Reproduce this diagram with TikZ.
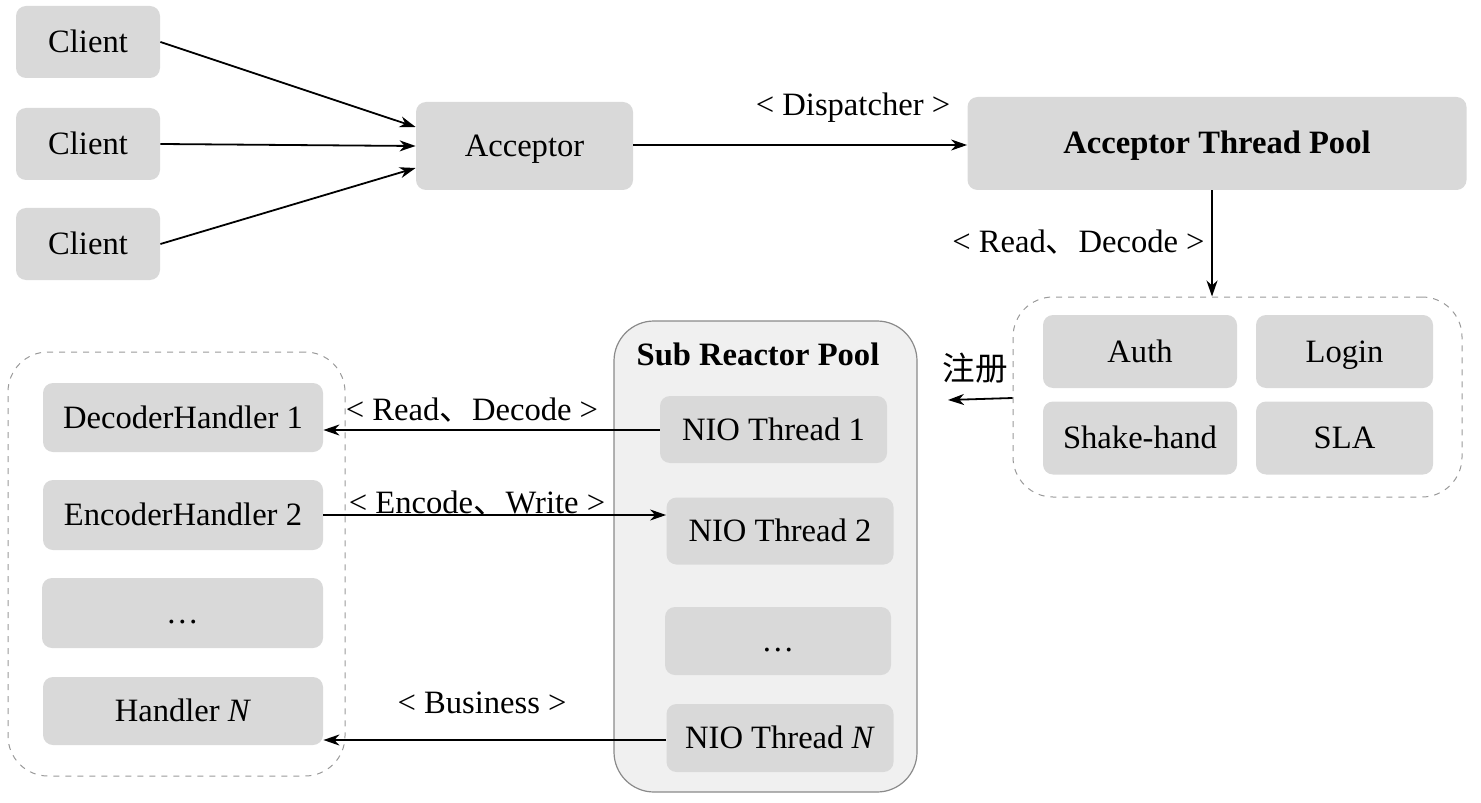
\documentclass[tikz,border=0pt]{standalone}
\usepackage{fontspec}
\setmainfont{Liberation Serif}
\newfontfamily\cjk{Noto Sans CJK SC}
\usetikzlibrary{arrows.meta}
\definecolor{boxfill}{HTML}{D9D9D9}
\definecolor{poolfill}{HTML}{F0F0F0}
\definecolor{poolline}{HTML}{8A8A8A}
\definecolor{dashline}{HTML}{9A9A9A}
\begin{document}
\begin{tikzpicture}[x=0.5pt,y=-0.5pt,
  every node/.style={font=\fontsize{16.3}{19}\selectfont, inner sep=0pt},
  box/.style={fill=boxfill, rounded corners=5pt, text height=12pt, text depth=1.5pt},
  dashbox/.style={draw=dashline, dashed, line width=0.5pt, rounded corners=20pt},
  pool/.style={draw=poolline, fill=poolfill, line width=0.6pt, rounded corners=20pt},
  conn/.style={line width=0.9pt, -{Stealth[length=8pt,width=5.5pt,inset=2.5pt]}},
  lbl/.style={fill=none}
]
\useasboundingbox (0,0) rectangle (1481,802);

% clients and acceptor
\node[box, minimum width=72pt, minimum height=36pt] (c1) at (88,42) {Client};
\node[box, minimum width=72pt, minimum height=36pt] (c2) at (88,144) {Client};
\node[box, minimum width=72pt, minimum height=36pt] (c3) at (88,244) {Client};
\node[box, minimum width=108.5pt, minimum height=44pt] (acc) at (524.5,146) {Acceptor};
\node[box, minimum width=249.5pt, minimum height=46.5pt] (atp) at (1217,143.5) {\bfseries Acceptor Thread Pool};

\draw[conn] (c1.east) -- (acc.west |- 0,127);
\draw[conn] (c2.east) -- (acc.west |- 0,146);
\draw[conn] (c3.east) -- (acc.west |- 0,168);
\draw[conn] (acc.east |- 0,145) -- (atp.west |- 0,145);
\node[lbl] (ldisp) at (853,108) {< Dispatcher >};

% right dashed group
\node[dashbox, minimum width=224.5pt, minimum height=100pt] (rgrp) at (1237.5,397) {};
\node[box, minimum width=97pt, minimum height=36.5pt] (auth) at (1140,351.5) {Auth};
\node[box, minimum width=88.5pt, minimum height=36.5pt] (login) at (1344.5,351.5) {Login};
\node[box, minimum width=97pt, minimum height=36.5pt] (shake) at (1140,438) {Shake-hand};
\node[box, minimum width=88.5pt, minimum height=36.5pt] (sla) at (1344.5,438) {SLA};

\draw[line width=0.7pt, -{Stealth[length=8pt,width=5.5pt,inset=2.5pt]}] (atp.south -| 1212,0) -- (rgrp.north -| 1212,0);
\node[lbl, anchor=east] (lrd1) at (1205,242) {< Read{\cjk 、}Decode >};

\coordinate (regend) at (948,400);
\draw[conn] (rgrp.west |- 0,398) -- (regend);
\node[lbl] (lreg) at (975,368) {\cjk 注册};

% sub reactor pool
\node[pool, minimum width=151.5pt, minimum height=235.5pt] (sub) at (765.5,556.5) {};
\node[lbl] (subt) at (758,354) {\bfseries Sub Reactor Pool};
\node[box, minimum width=113.5pt, minimum height=33.5pt] (nio1) at (773.5,429.5) {NIO Thread 1};
\node[box, minimum width=113.5pt, minimum height=33.5pt] (nio2) at (780,531) {NIO Thread 2};
\node[box, minimum width=113pt, minimum height=34pt] (niod) at (778,641) {…};
\node[box, minimum width=113.5pt, minimum height=34pt] (nion) at (780,738) {NIO Thread \textit{N}};

% left dashed group
\node[dashbox, minimum width=168.5pt, minimum height=212pt] (lgrp) at (176.5,564) {};
\node[box, minimum width=140pt, minimum height=34.5pt] (h1) at (183,417.5) {DecoderHandler 1};
\node[box, minimum width=140pt, minimum height=35pt] (h2) at (183,515) {EncoderHandler 2};
\node[box, minimum width=140.5pt, minimum height=35pt] (hd) at (182.5,613) {…};
\node[box, minimum width=140pt, minimum height=34pt] (hn) at (183,711) {Handler \textit{N}};

\draw[conn] (nio1.west |- 0,430) -- (h1.east |- 0,430);
\node[lbl] (lrd2) at (472,410) {< Read{\cjk 、}Decode >};
\draw[conn] (h2.east |- 0,515) -- (nio2.west |- 0,515);
\node[lbl] (lew) at (477,503) {< Encode{\cjk 、}Write >};
\draw[conn] (nion.west |- 0,740) -- (hn.east |- 0,740);
\node[lbl] (lbus) at (482,703) {< Business >};
\end{tikzpicture}
\end{document}
